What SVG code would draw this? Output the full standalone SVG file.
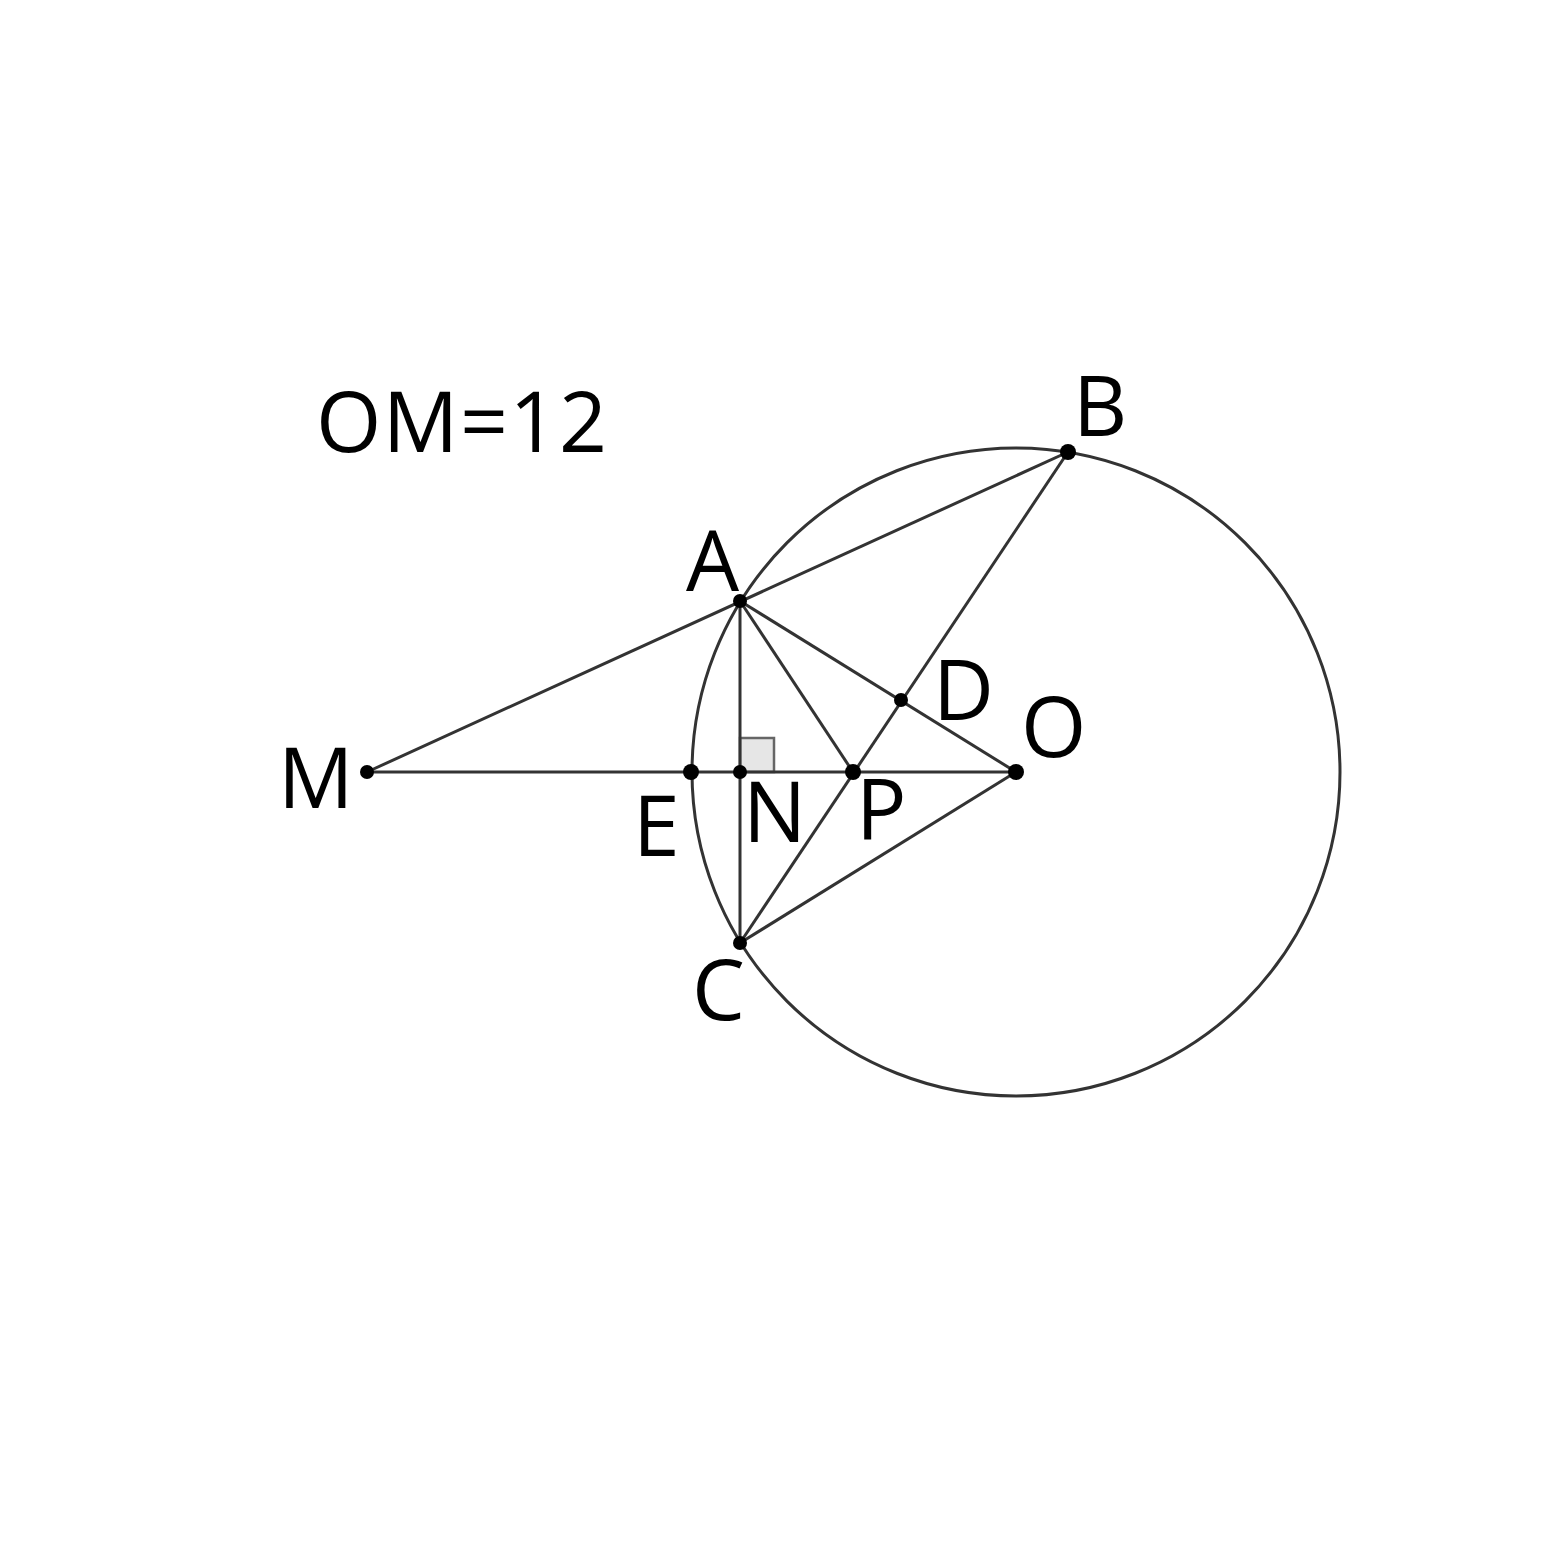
<svg xmlns="http://www.w3.org/2000/svg" width="1546" height="1546" viewBox="0 0 1546 1546">
<style>
.ln{stroke:#333;stroke-width:3;fill:none}
.pt{fill:#000}
.lb{font-family:"Open Sans","Noto Sans",sans-serif;font-size:84px;fill:#000}
</style>
<rect width="1546" height="1546" fill="#fff"/>
<g id="circle"><circle class="ln" cx="1016" cy="772" r="324"/></g>
<g id="right-angle"><rect x="740" y="738" width="34" height="34" fill="#e6e6e6" stroke="#666" stroke-width="2.5"/></g>
<g id="connectors">
<line class="ln" x1="367" y1="772" x2="1016" y2="772"/>
<line class="ln" x1="367" y1="772" x2="1068" y2="452"/>
<line class="ln" x1="1068" y1="452" x2="740" y2="943"/>
<line class="ln" x1="740" y1="601" x2="740" y2="943"/>
<line class="ln" x1="740" y1="601" x2="1016" y2="772"/>
<line class="ln" x1="740" y1="943" x2="1016" y2="772"/>
<line class="ln" x1="740" y1="601" x2="853" y2="772"/>
</g>
<g id="M"><circle class="pt" cx="367" cy="772" r="7"/><text class="lb" x="278" y="808">M</text></g>
<g id="E"><circle class="pt" cx="691" cy="772" r="8"/><text class="lb" x="633" y="856">E</text></g>
<g id="N"><circle class="pt" cx="740" cy="772" r="7"/><text class="lb" x="743" y="842">N</text></g>
<g id="P"><circle class="pt" cx="853" cy="772" r="8"/><text class="lb" x="856" y="840">P</text></g>
<g id="O"><circle class="pt" cx="1016" cy="772" r="8"/><text class="lb" x="1021" y="757">O</text></g>
<g id="A"><circle class="pt" cx="740" cy="601" r="7"/><text class="lb" x="686" y="591">A</text></g>
<g id="B"><circle class="pt" cx="1068" cy="452" r="8"/><text class="lb" x="1073" y="436">B</text></g>
<g id="C"><circle class="pt" cx="740" cy="943" r="7"/><text class="lb" x="692" y="1020">C</text></g>
<g id="D"><circle class="pt" cx="901" cy="700" r="7"/><text class="lb" x="933" y="720">D</text></g>
<g id="title"><text class="lb" x="316" y="452" letter-spacing="1.5">OM=12</text></g>
</svg>
